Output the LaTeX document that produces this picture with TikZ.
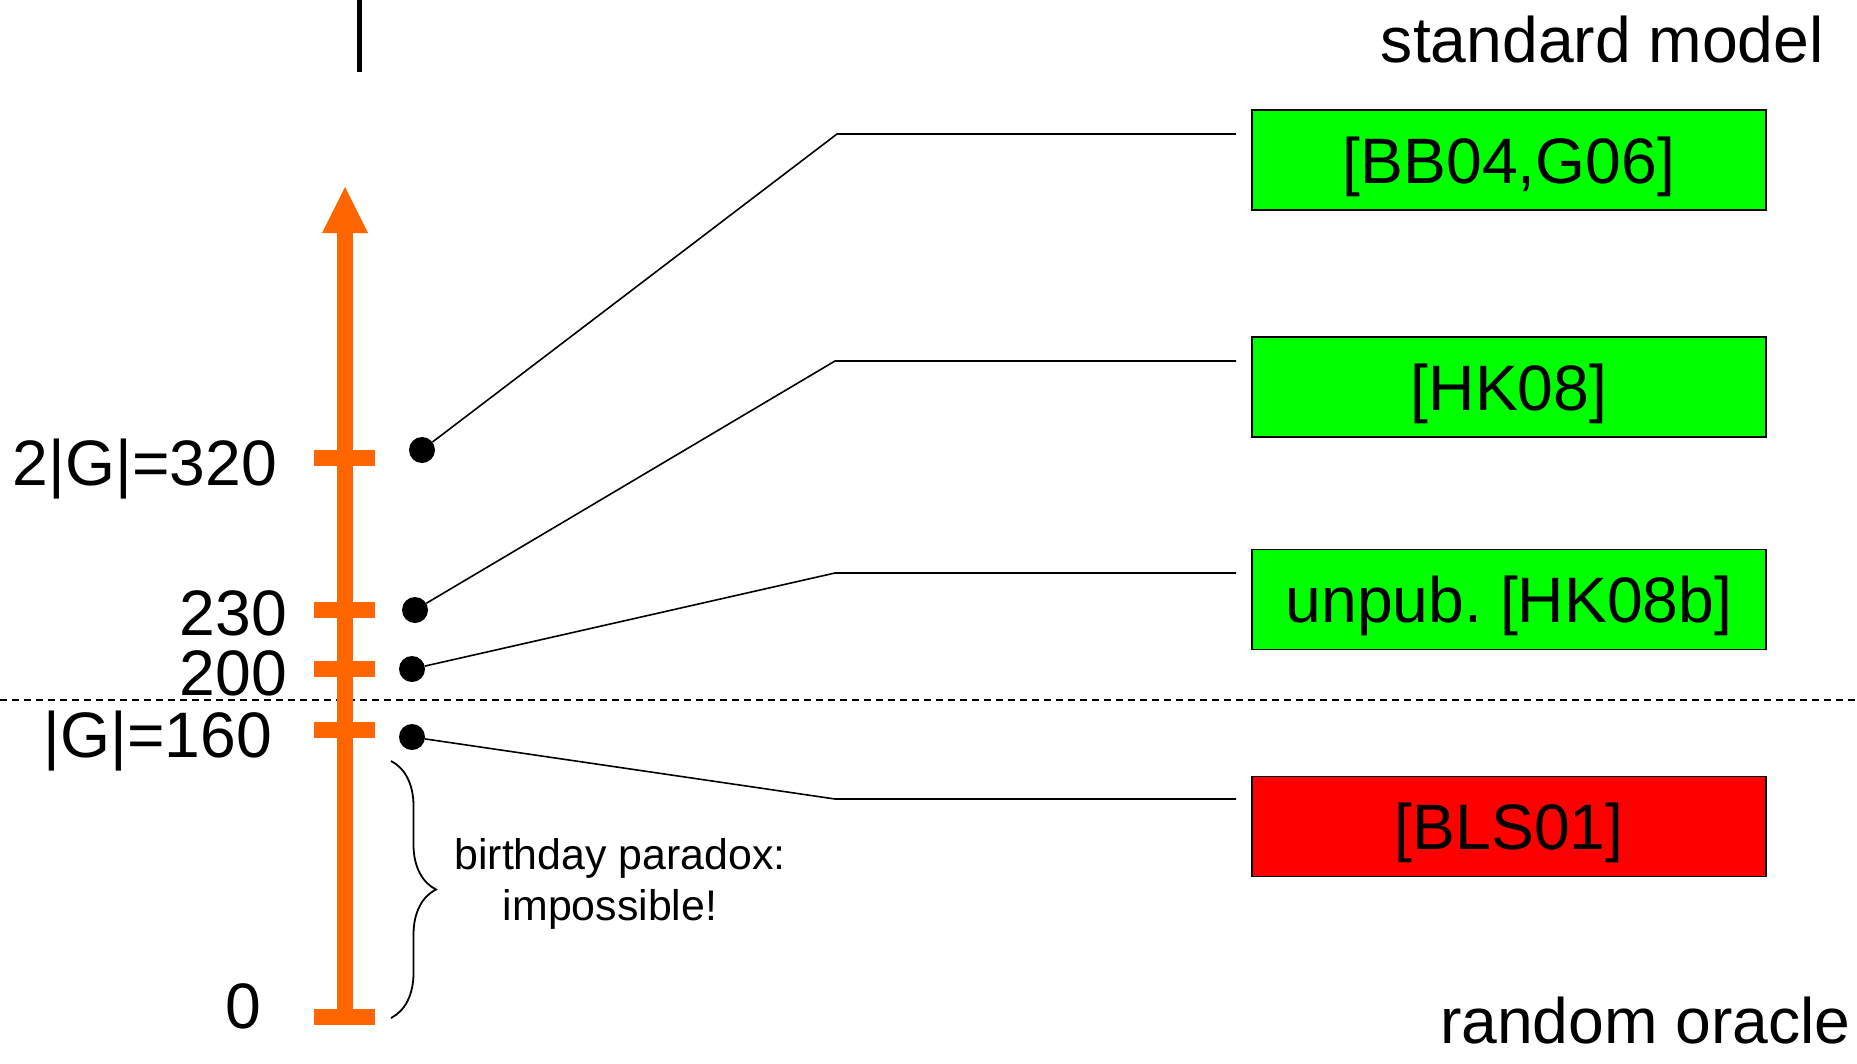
\documentclass[tikz,border=0pt]{standalone}
\usepackage{fontspec}
\setmainfont{Liberation Sans}
\usetikzlibrary{decorations.pathreplacing}
\definecolor{axisorange}{HTML}{FF6600}
\definecolor{goodgreen}{HTML}{00FF00}
\definecolor{badred}{HTML}{FF0000}
\frenchspacing
\begin{document}
\begin{tikzpicture}[x=1bp,y=-1bp,
  big/.style={font=\fontsize{64.5}{72}\selectfont, inner sep=0pt},
  small/.style={font=\fontsize{43}{51}\selectfont, inner sep=0pt, align=center},
  result/.style={draw=black, line width=1.5bp, minimum width=514bp, minimum height=100bp,
    inner sep=0pt, text height=46bp, text depth=0pt, font=\fontsize{64.5}{72}\selectfont},
  dot/.style={circle, fill=black, minimum size=26bp, inner sep=0pt},
  link/.style={line width=1.6bp},
  tickmark/.style={fill=axisorange},
]
\useasboundingbox (0,0) rectangle (1857,1063);

% short black bar at the top
\draw[line width=5bp] (359,0) -- (359,72);

% separator between standard model and random oracle
\draw[line width=1.5bp, dash pattern=on 7bp off 5bp] (0,700) -- (1857,700);

% orange axis with arrow head
\fill[axisorange] (337,1018) rectangle (353,232);
\fill[axisorange] (322,233) -- (368,233) -- (345,187) -- cycle;

% tick marks
\foreach \yy in {458,610,669,730,1017}
  \fill[tickmark] (314,\yy-8) rectangle (375,\yy+8);

% tick labels
\node[big, anchor=base east] (l320) at (277,485) {2|G|=320};
\node[big, anchor=base east] (l230) at (287,635) {230};
\node[big, anchor=base east] (l200) at (287,695) {200};
\node[big, anchor=base east] (l160) at (272,757) {|G|=160};
\node[big, anchor=base east] (l0) at (261,1028) {0};

% region titles
\node[big, anchor=base east] (std) at (1824,62) {standard model};
\node[big, anchor=base east] (ro) at (1851,1043) {random oracle};

% result boxes
\node[result, fill=goodgreen] (bb) at (1509,160) {[BB04,G06]};
\node[result, fill=goodgreen] (hk) at (1509,387) {[HK08]};
\node[result, fill=goodgreen] (hkb) at (1509,599.5) {unpub. [HK08b]};
\node[result, fill=badred] (bls) at (1509,826.5) {[BLS01]};

% points on the scale
\node[dot] (d1) at (422,450) {};
\node[dot] (d2) at (415,610) {};
\node[dot] (d3) at (412,669) {};
\node[dot] (d4) at (412,737) {};

% connector ends
\coordinate (k1) at (837,134);  \coordinate (e1) at (1236,134);
\coordinate (k2) at (835,361);  \coordinate (e2) at (1236,361);
\coordinate (k3) at (835,573);  \coordinate (e3) at (1236,573);
\coordinate (k4) at (835,799);  \coordinate (e4) at (1236,799);

\draw[link] (d1) -- (k1) -- (e1);
\draw[link] (d2) -- (k2) -- (e2);
\draw[link] (d3) -- (k3) -- (e3);
\draw[link] (d4) -- (k4) -- (e4);

% brace over the lower range
\draw[line width=1.8bp, decorate, decoration={brace, amplitude=45bp}]
  (391,761) -- (391,1018);
\node[small] (bday) at (620,884) {birthday paradox:\\impossible!\hspace*{20bp}};

\end{tikzpicture}
\end{document}
